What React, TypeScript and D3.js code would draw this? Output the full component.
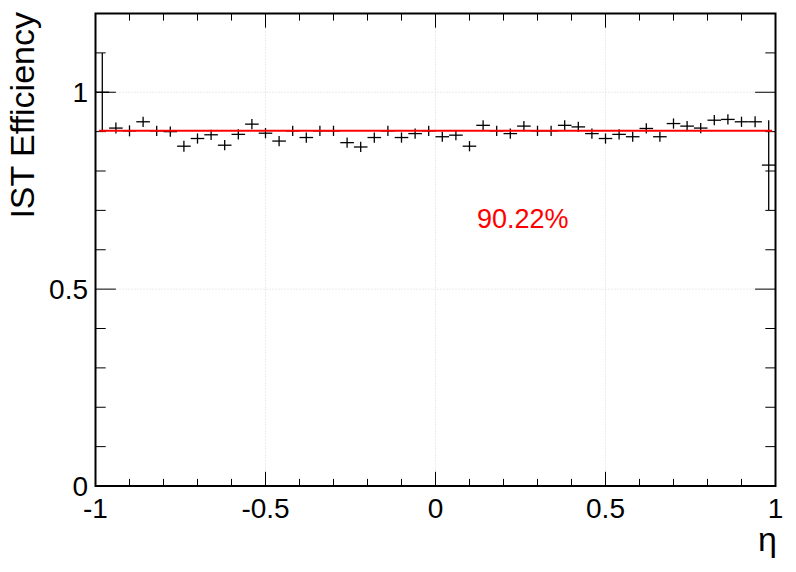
import React from 'react';
import * as d3 from 'd3';

// Histogram definition
const ETA_MIN = -1;
const ETA_MAX = 1;
const N_BINS = 50;

// Efficiency per eta bin
const efficiency = [
  1.0, 0.909, 0.902, 0.925, 0.902, 0.9, 0.863, 0.8825, 0.892, 0.8655,
  0.893, 0.919, 0.896, 0.876, 0.902, 0.885, 0.902, 0.902, 0.872, 0.861,
  0.885, 0.902, 0.885, 0.895, 0.902, 0.887, 0.891, 0.863, 0.916, 0.902,
  0.895, 0.914, 0.902, 0.902, 0.916, 0.912, 0.895, 0.8825, 0.893, 0.887,
  0.908, 0.887, 0.9205, 0.914, 0.909, 0.929, 0.931, 0.925, 0.925, 0.815,
];
const efficiencyErr = [
  0.1, 0.014, 0.014, 0.013, 0.013, 0.013, 0.014, 0.013, 0.013, 0.013,
  0.013, 0.013, 0.013, 0.013, 0.013, 0.013, 0.013, 0.013, 0.013, 0.013,
  0.013, 0.013, 0.013, 0.013, 0.013, 0.013, 0.013, 0.013, 0.013, 0.013,
  0.013, 0.013, 0.013, 0.013, 0.013, 0.013, 0.013, 0.013, 0.013, 0.013,
  0.013, 0.013, 0.013, 0.013, 0.013, 0.013, 0.013, 0.013, 0.014, 0.114,
];

const fitValue = 0.9022;
const fitRange = [-0.99, 0.99];
const fitLabel = '90.22%';

const xMajorTicks = [-1, -0.5, 0, 0.5, 1];
const xTickLabels = ['-1', '-0.5', '0', '0.5', '1'];
const xGrid = [-0.5, 0, 0.5];
const yMajorTicks = [0, 0.5, 1];
const yTickLabels = ['0', '0.5', '1'];
const yGrid = [0.5, 1];
const yTitle = 'IST Efficiency';
const xTitle = 'η';

const W = 796;
const H = 572;
const PL = 95.5;
const PR = 775.5;
const PT = 13.5;
const PB = 486;
const FONT = '"Liberation Sans", Arial, Helvetica, sans-serif';

export default function App() {
  const x = d3.scaleLinear().domain([ETA_MIN, ETA_MAX]).range([PL, PR]);
  const y = d3.scaleLinear().domain([0, 1.2]).range([PB, PT]);
  const binW = (ETA_MAX - ETA_MIN) / N_BINS;
  const bins = efficiency.map((v, i) => ({
    lo: ETA_MIN + i * binW,
    hi: ETA_MIN + (i + 1) * binW,
    c: ETA_MIN + (i + 0.5) * binW,
    v,
    e: efficiencyErr[i],
  }));
  const xMinor = d3.range(-10, 11).map((k) => k / 10).filter((t) => !xMajorTicks.some((m) => Math.abs(m - t) < 1e-9));
  const yMinor = d3.range(0, 13).map((k) => k / 10).filter((t) => !yMajorTicks.some((m) => Math.abs(m - t) < 1e-9));

  const xMajLen = 14.2, xMinLen = 7.1, yMajLen = 20.4, yMinLen = 10.2;

  return (
    <svg width={W} height={H} style={{ position: 'absolute', left: 0, top: 0, background: '#fff' }} fontFamily={FONT}>
      <rect x={0} y={0} width={W} height={H} fill="#fff" />
      {/* grid */}
      {xGrid.map((t) => (
        <line key={'gx' + t} x1={x(t)} x2={x(t)} y1={PT} y2={PB} stroke="#d8d8d8" strokeWidth={1} strokeDasharray="1,2" />
      ))}
      {yGrid.map((t) => (
        <line key={'gy' + t} x1={PL} x2={PR} y1={y(t)} y2={y(t)} stroke="#d8d8d8" strokeWidth={1} strokeDasharray="1,2" />
      ))}
      {/* ticks bottom & top */}
      {xMajorTicks.map((t) => (
        <g key={'xt' + t}>
          <line x1={x(t)} x2={x(t)} y1={PB} y2={PB - xMajLen} stroke="#000" strokeWidth={1} />
          <line x1={x(t)} x2={x(t)} y1={PT} y2={PT + xMajLen} stroke="#000" strokeWidth={1} />
        </g>
      ))}
      {xMinor.map((t) => (
        <g key={'xm' + t}>
          <line x1={x(t)} x2={x(t)} y1={PB} y2={PB - xMinLen} stroke="#000" strokeWidth={1} />
          <line x1={x(t)} x2={x(t)} y1={PT} y2={PT + xMinLen} stroke="#000" strokeWidth={1} />
        </g>
      ))}
      {yMajorTicks.map((t) => (
        <g key={'yt' + t}>
          <line x1={PL} x2={PL + yMajLen} y1={y(t)} y2={y(t)} stroke="#000" strokeWidth={1} />
          <line x1={PR} x2={PR - yMajLen} y1={y(t)} y2={y(t)} stroke="#000" strokeWidth={1} />
        </g>
      ))}
      {yMinor.map((t) => (
        <g key={'ym' + t}>
          <line x1={PL} x2={PL + yMinLen} y1={y(t)} y2={y(t)} stroke="#000" strokeWidth={1} />
          <line x1={PR} x2={PR - yMinLen} y1={y(t)} y2={y(t)} stroke="#000" strokeWidth={1} />
        </g>
      ))}
      {/* data */}
      {bins.map((b, i) => (
        <g key={'b' + i} stroke="#000" strokeWidth={1.3}>
          <line x1={x(b.lo)} x2={x(b.hi)} y1={y(b.v)} y2={y(b.v)} />
          <line x1={x(b.c)} x2={x(b.c)} y1={y(Math.min(b.v + b.e, 1.2))} y2={y(b.v - b.e)} />
        </g>
      ))}
      {/* fit */}
      <line x1={x(fitRange[0])} x2={x(fitRange[1])} y1={y(fitValue)} y2={y(fitValue)} stroke="#ff0000" strokeWidth={2.2} />
      <text x={477} y={228} fontSize={27} fill="#ff0000">{fitLabel}</text>
      {/* frame */}
      <rect x={PL} y={PT} width={PR - PL} height={PB - PT} fill="none" stroke="#000" strokeWidth={2} />
      {/* tick labels */}
      {xMajorTicks.map((t, i) => (
        <text key={'xl' + t} x={x(t)} y={518} fontSize={28} textAnchor="middle" fill="#000">{xTickLabels[i]}</text>
      ))}
      {yMajorTicks.map((t, i) => (
        <text key={'yl' + t} x={88} y={y(t) + 10} fontSize={28} textAnchor="end" fill="#000">{yTickLabels[i]}</text>
      ))}
      <text transform={`translate(34,12) rotate(-90)`} fontSize={34} textAnchor="end" fill="#000">{yTitle}</text>
      <text x={777} y={551} fontSize={34} textAnchor="end" fill="#000">{xTitle}</text>
    </svg>
  );
}
